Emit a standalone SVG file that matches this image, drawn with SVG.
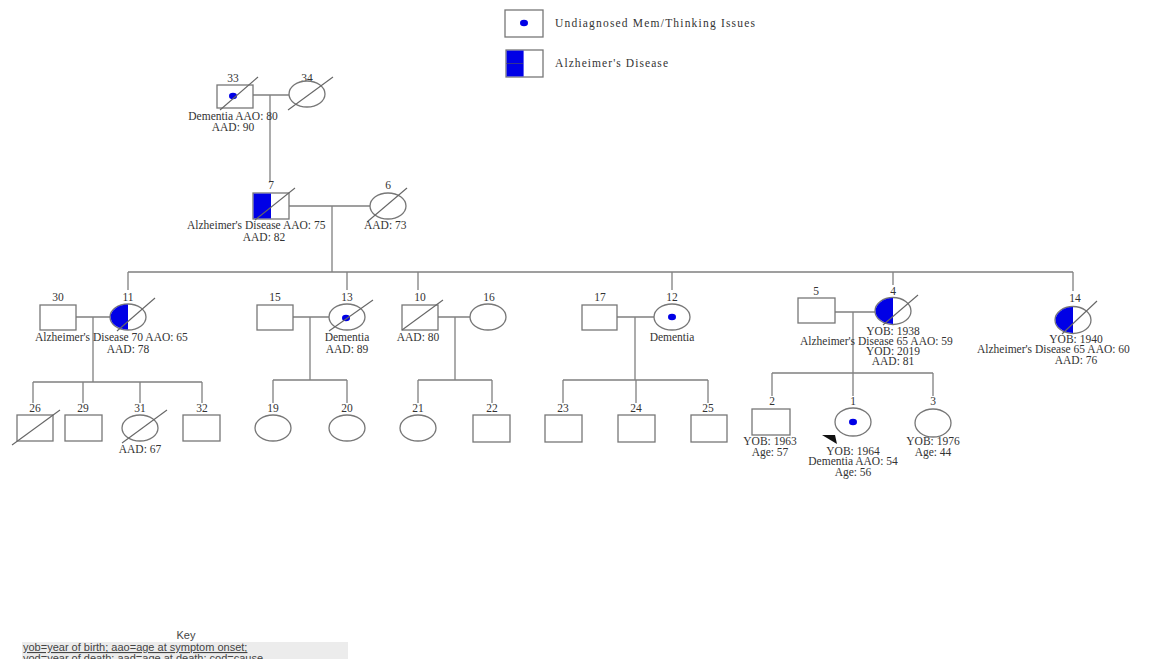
<svg xmlns="http://www.w3.org/2000/svg" width="1171" height="659" viewBox="0 0 1171 659">
<style>
.s{fill:#fff;stroke:#777;stroke-width:1.3}
.b{fill:#0000e6;stroke:none}
.l{stroke:#808080;stroke-width:1.3;fill:none}
.d{stroke:#666;stroke-width:1.1;fill:none}
text{font-family:"Liberation Serif","Times New Roman",serif;font-size:11.5px;fill:#333}
.c{text-anchor:middle}
.k{font-family:"Liberation Sans",Arial,sans-serif;font-size:11px;fill:#444}
</style>
<rect width="1171" height="659" fill="#fff"/>
<g id="legend">
<rect class="s" x="505" y="10" width="38" height="27"/>
<ellipse class="b" cx="524" cy="23" rx="4" ry="3.2"/>
<text x="555" y="27" textLength="200" font-size="11">Undiagnosed Mem/Thinking Issues</text>
<rect class="s" x="506" y="50" width="37" height="27"/>
<rect class="b" x="506.6" y="50.6" width="17" height="25.8"/>
<line x1="506" y1="63.5" x2="523" y2="63.5" stroke="#555" stroke-width="0.6"/>
<text x="555" y="67" textLength="113" font-size="11">Alzheimer's Disease</text>
</g>
<g id="connectors">
<path class="l" d="M253 95H289M270 95V182"/>
<path class="l" d="M289 206H370M332 206V272"/>
<path class="l" d="M128 272H1073M128 272V290M347 272V290M418 272V290M672 272V290M893 272V285M1073 272V291"/>
<path class="l" d="M76 317H110M93 317V382M33 382H202M33 382V403M83 382V403M140 382V403M202 382V403"/>
<path class="l" d="M293 317H329M310 317V380M273 380H347M273 380V403M347 380V403"/>
<path class="l" d="M438 317H470M455 317V380M418 380H492M418 380V403M492 380V403"/>
<path class="l" d="M617 317H654M635 317V380M563 380H708M563 380V403M636 380V403M708 380V403"/>
<path class="l" d="M835 312H875M853 312V373M772 373H933M772 373V396M853 373V396M933 373V396"/>
</g>
<g id="n33">
<text class="c" x="233" y="82">33</text>
<rect class="s" x="217" y="85" width="36" height="23"/>
<ellipse class="b" cx="233" cy="96" rx="4" ry="3.2"/>
<line class="d" x1="220" y1="110" x2="258" y2="77"/>
<text class="c" x="233" y="120">Dementia AAO: 80</text>
<text class="c" x="233" y="131">AAD: 90</text>
</g>
<g id="n34">
<text class="c" x="307" y="82">34</text>
<ellipse class="s" cx="307" cy="94" rx="18" ry="13"/>
<line class="d" x1="288" y1="110" x2="333" y2="77"/>
</g>
<g id="n7">
<text class="c" x="271" y="189">7</text>
<rect class="s" x="253" y="193" width="36" height="26"/>
<rect class="b" x="253.6" y="193.6" width="17.4" height="24.8"/>
<line class="d" x1="255" y1="220" x2="295" y2="188"/>
<text x="187" y="229">Alzheimer's Disease AAO: 75</text>
<text class="c" x="264" y="241">AAD: 82</text>
</g>
<g id="n6">
<text class="c" x="388" y="189">6</text>
<ellipse class="s" cx="388" cy="206" rx="18" ry="13"/>
<line class="d" x1="367" y1="222" x2="407" y2="188"/>
<text x="364" y="229">AAD: 73</text>
</g>
<g id="n30">
<text class="c" x="58" y="301">30</text>
<rect class="s" x="40" y="305" width="36" height="25"/>
</g>
<g id="n11">
<text class="c" x="128" y="301">11</text>
<ellipse class="s" cx="128" cy="317" rx="18" ry="13"/>
<path class="b" d="M128 304.6A17.4 12.4 0 0 0 128 329.4Z"/>
<line class="d" x1="117" y1="331" x2="155" y2="298"/>
<text x="35" y="341">Alzheimer's Disease 70 AAO: 65</text>
<text class="c" x="128" y="353">AAD: 78</text>
</g>
<g id="n15">
<text class="c" x="275" y="301">15</text>
<rect class="s" x="257" y="305" width="36" height="25"/>
</g>
<g id="n13">
<text class="c" x="347" y="301">13</text>
<ellipse class="s" cx="347" cy="317" rx="18" ry="13"/>
<ellipse class="b" cx="346" cy="318" rx="4" ry="3.2"/>
<line class="d" x1="329" y1="331" x2="373" y2="300"/>
<text class="c" x="347" y="341">Dementia</text>
<text class="c" x="347" y="353">AAD: 89</text>
</g>
<g id="n10">
<text class="c" x="420" y="301">10</text>
<rect class="s" x="402" y="305" width="36" height="25"/>
<line class="d" x1="402" y1="330" x2="443" y2="300"/>
<text class="c" x="418" y="341">AAD: 80</text>
</g>
<g id="n16">
<text class="c" x="489" y="301">16</text>
<ellipse class="s" cx="488" cy="317" rx="18" ry="13"/>
</g>
<g id="n17">
<text class="c" x="600" y="301">17</text>
<rect class="s" x="582" y="305" width="35" height="25"/>
</g>
<g id="n12">
<text class="c" x="672" y="301">12</text>
<ellipse class="s" cx="672" cy="317" rx="18" ry="13"/>
<ellipse class="b" cx="672" cy="317" rx="4" ry="3.2"/>
<text class="c" x="672" y="341">Dementia</text>
</g>
<g id="n5">
<text class="c" x="816" y="295">5</text>
<rect class="s" x="798" y="298" width="37" height="25"/>
</g>
<g id="n4">
<text class="c" x="893" y="295">4</text>
<ellipse class="s" cx="893" cy="311" rx="18" ry="13.5"/>
<path class="b" d="M893 298.1A17.4 12.9 0 0 0 893 323.9Z"/>
<line class="d" x1="883" y1="325" x2="918" y2="295"/>
<text class="c" x="893" y="335">YOB: 1938</text>
<text x="800" y="345">Alzheimer's Disease 65 AAO: 59</text>
<text class="c" x="893" y="355">YOD: 2019</text>
<text class="c" x="893" y="365">AAD: 81</text>
</g>
<g id="n14">
<text class="c" x="1075" y="302">14</text>
<ellipse class="s" cx="1073" cy="320" rx="18" ry="13.5"/>
<path class="b" d="M1073 307.1A17.4 12.9 0 0 0 1073 332.9Z"/>
<line class="d" x1="1062" y1="334" x2="1097" y2="301"/>
<text class="c" x="1076" y="343">YOB: 1940</text>
<text x="977" y="353">Alzheimer's Disease 65 AAO: 60</text>
<text class="c" x="1076" y="364">AAD: 76</text>
</g>
<g id="n26">
<text class="c" x="35" y="412">26</text>
<rect class="s" x="17" y="415" width="36" height="26"/>
<line class="d" x1="12" y1="445" x2="60" y2="410"/>
</g>
<g id="n29">
<text class="c" x="83" y="412">29</text>
<rect class="s" x="65" y="415" width="37" height="26"/>
</g>
<g id="n31">
<text class="c" x="140" y="412">31</text>
<ellipse class="s" cx="140" cy="428" rx="18" ry="13"/>
<line class="d" x1="122" y1="443" x2="167" y2="410"/>
<text class="c" x="140" y="453">AAD: 67</text>
</g>
<g id="n32">
<text class="c" x="202" y="412">32</text>
<rect class="s" x="183" y="415" width="37" height="26"/>
</g>
<g id="n19">
<text class="c" x="273" y="412">19</text>
<ellipse class="s" cx="273" cy="428" rx="18" ry="13"/>
</g>
<g id="n20">
<text class="c" x="347" y="412">20</text>
<ellipse class="s" cx="347" cy="428" rx="18" ry="13"/>
</g>
<g id="n21">
<text class="c" x="418" y="412">21</text>
<ellipse class="s" cx="418" cy="428" rx="18" ry="13"/>
</g>
<g id="n22">
<text class="c" x="492" y="412">22</text>
<rect class="s" x="473" y="415" width="37" height="27"/>
</g>
<g id="n23">
<text class="c" x="563" y="412">23</text>
<rect class="s" x="545" y="415" width="37" height="27"/>
</g>
<g id="n24">
<text class="c" x="636" y="412">24</text>
<rect class="s" x="618" y="415" width="37" height="27"/>
</g>
<g id="n25">
<text class="c" x="708" y="412">25</text>
<rect class="s" x="691" y="415" width="36" height="27"/>
</g>
<g id="n2">
<text class="c" x="772" y="405">2</text>
<rect class="s" x="752" y="409" width="38" height="26"/>
<text class="c" x="770" y="445">YOB: 1963</text>
<text class="c" x="770" y="456">Age: 57</text>
</g>
<g id="n1">
<text class="c" x="853" y="405">1</text>
<ellipse class="s" cx="853" cy="422" rx="18" ry="14"/>
<ellipse class="b" cx="853" cy="422" rx="4" ry="3.2"/>
<polygon points="822,435 835,435 837,444" fill="#111"/>
<text class="c" x="853" y="455">YOB: 1964</text>
<text class="c" x="853" y="465">Dementia AAO: 54</text>
<text class="c" x="853" y="476">Age: 56</text>
</g>
<g id="n3">
<text class="c" x="933" y="405">3</text>
<ellipse class="s" cx="933" cy="423" rx="18" ry="14"/>
<text class="c" x="933" y="445">YOB: 1976</text>
<text class="c" x="933" y="456">Age: 44</text>
</g>
<g id="key">
<text class="k" x="186" y="639" text-anchor="middle">Key</text>
<rect x="22" y="642" width="326" height="17" fill="#ececec"/>
<text class="k" x="23" y="651" text-decoration="underline">yob=year of birth; aao=age at symptom onset;</text>
<text class="k" x="23" y="662">yod=year of death; aad=age at death; cod=cause</text>
</g>
</svg>
